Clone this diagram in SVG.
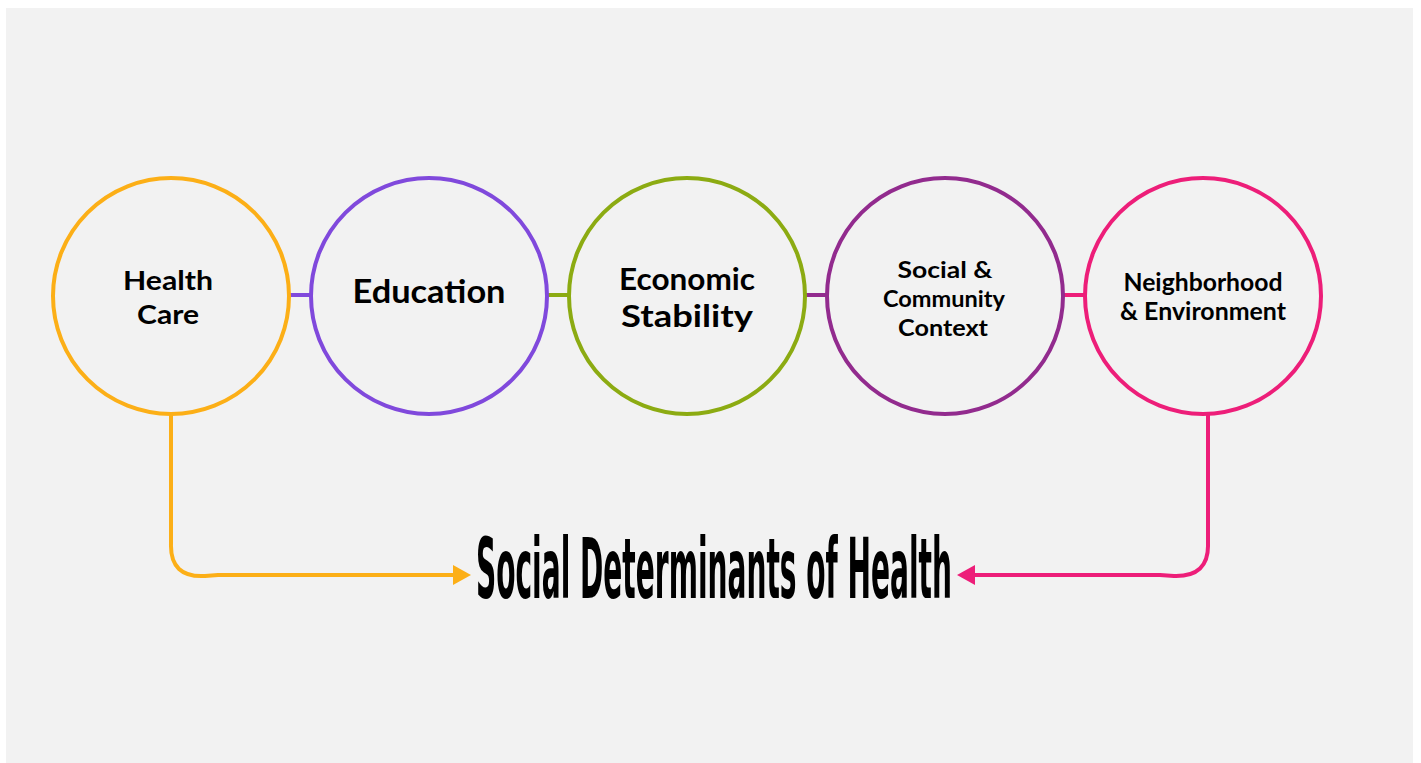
<svg xmlns="http://www.w3.org/2000/svg" width="1421" height="763" viewBox="0 0 1421 763">
  <style>
    .ring { fill: none; stroke-width: 4; }
    .link { fill: none; stroke-width: 4; }
    .lbl { font-family: "Lato", "Noto Sans", "DejaVu Sans", sans-serif; font-weight: 700; fill: #000; text-anchor: middle; }
    .title { font-family: "DejaVu Sans Condensed", "Lato", "Liberation Sans", sans-serif; font-weight: 700; fill: #000; }
  </style>
  <defs>
    <marker id="arrowOrange" viewBox="0 0 18 20" refX="0" refY="10" markerWidth="18" markerHeight="20" markerUnits="userSpaceOnUse" orient="auto">
      <path d="M0,0 L18,10 L0,20 Z" fill="#FCAF17"/>
    </marker>
    <marker id="arrowPink" viewBox="0 0 18 20" refX="0" refY="10" markerWidth="18" markerHeight="20" markerUnits="userSpaceOnUse" orient="auto">
      <path d="M0,0 L18,10 L0,20 Z" fill="#ED1E79"/>
    </marker>
  </defs>

  <!-- canvas -->
  <rect x="0" y="0" width="1421" height="763" fill="#ffffff"/>
  <rect x="6" y="8" width="1407" height="755" fill="#F2F2F2"/>

  <!-- connectors -->
  <g id="connectors">
    <line class="link" x1="290" y1="295" x2="310" y2="295" stroke="#8049DC"/>
    <line class="link" x1="548" y1="295" x2="568" y2="295" stroke="#8CAB12"/>
    <line class="link" x1="806" y1="295" x2="826" y2="295" stroke="#922B8E"/>
    <line class="link" x1="1064" y1="295" x2="1084" y2="295" stroke="#ED1E79"/>
    <path class="link" d="M171,415 L171,544 Q170,578 205,576 L218,575 L453,575" stroke="#FCAF17" marker-end="url(#arrowOrange)"/>
    <path class="link" d="M1208,415 L1208,544 Q1209,577 1174,576 L1160,575 L975,575" stroke="#ED1E79" marker-end="url(#arrowPink)"/>
  </g>

  <g id="node-health-care">
    <circle class="ring" cx="171" cy="296" r="118" stroke="#FCAF17"/>
    <text class="lbl" font-size="27" x="168" y="290" textLength="90" lengthAdjust="spacingAndGlyphs">Health</text>
    <text class="lbl" font-size="27" x="168" y="324" textLength="62" lengthAdjust="spacingAndGlyphs">Care</text>
  </g>

  <g id="node-education">
    <circle class="ring" cx="429" cy="296" r="118" stroke="#8049DC"/>
    <text class="lbl" font-size="33" x="429" y="303" textLength="153" lengthAdjust="spacingAndGlyphs">Education</text>
  </g>

  <g id="node-economic-stability">
    <circle class="ring" cx="687" cy="296" r="118" stroke="#8CAB12"/>
    <text class="lbl" font-size="31" x="687" y="290" textLength="136" lengthAdjust="spacingAndGlyphs">Economic</text>
    <text class="lbl" font-size="31" x="687" y="327" textLength="132" lengthAdjust="spacingAndGlyphs">Stability</text>
  </g>

  <g id="node-social-community">
    <circle class="ring" cx="945" cy="296" r="118" stroke="#922B8E"/>
    <text class="lbl" font-size="23" x="945" y="278" textLength="95" lengthAdjust="spacingAndGlyphs">Social &amp;</text>
    <text class="lbl" font-size="23" x="944" y="307" textLength="122" lengthAdjust="spacingAndGlyphs">Community</text>
    <text class="lbl" font-size="23" x="943" y="336" textLength="90" lengthAdjust="spacingAndGlyphs">Context</text>
  </g>

  <g id="node-neighborhood">
    <circle class="ring" cx="1203" cy="296" r="118" stroke="#ED1E79"/>
    <text class="lbl" font-size="24" x="1203" y="291" textLength="159" lengthAdjust="spacingAndGlyphs">Neighborhood</text>
    <text class="lbl" font-size="24" x="1203" y="320" textLength="166" lengthAdjust="spacingAndGlyphs">&amp; Environment</text>
  </g>

  <!-- tall, narrow heading: glyphs stretched vertically -->
  <g id="node-title">
    <text class="title" font-size="42" x="0" y="0" transform="translate(476,598) scale(1,2)" textLength="476" lengthAdjust="spacingAndGlyphs">Social Determinants of Health</text>
  </g>
</svg>
